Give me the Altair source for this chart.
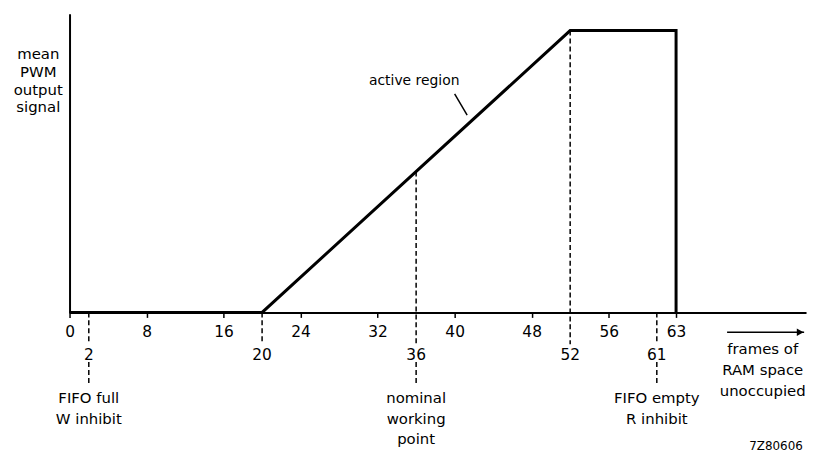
import altair as alt
import pandas as pd

FONT = "DejaVu Sans"

# transfer characteristic (mean PWM output vs. free RAM frames)
curve_x = [0, 20, 52, 63, 63]
curve_y = [0, 0, 1, 1, 0]

# first row of x tick labels
tick_values = [0, 8, 16, 24, 32, 40, 48, 56, 63]

# marked points: second row labels and dashed guide lines
mark_x = [2, 20, 36, 52, 61]
mark_top = [0, 0, 0.5, 1, 0]
mark_labels = ["2", "20", "36", "52", "61"]

# annotations below the axis
note_x = [2, 36, 61]
note_text = ["FIFO full\nW inhibit", "nominal\nworking\npoint", "FIFO empty\nR inhibit"]

unit_x = [72]
unit_text = ["frames of\nRAM space\nunoccupied"]
arrow_x = [68.3, 76.3]

active_x = [35.8]
active_y = [0.806]
active_text = ["active region"]
leader_x = [40.0, 41.3]
leader_y = [0.775, 0.70]

ref_x = [70.6]
ref_text = ["7Z80606"]

y_title = ["mean", "PWM", "output", "signal"]

xs = alt.Scale(domain=[0, 76.5], nice=False, zero=False)
ys = alt.Scale(domain=[0, 1.06], nice=False, zero=False)

xaxis = alt.Axis(values=tick_values, title="", grid=False, domainColor="black",
                 domainWidth=2, tickColor="black", tickWidth=1.5, tickSize=5,
                 labelFont=FONT, labelFontSize=15.5, labelColor="black",
                 labelBaseline="alphabetic", labelPadding=19, labelFlush=False,
                 labelOverlap=False)
yaxis = alt.Axis(title=y_title, titleAngle=0, titleX=-32, titleY=45,
                 titleAlign="center", titleBaseline="alphabetic",
                 titleFont=FONT, titleFontSize=15, titleFontWeight="normal",
                 titleLineHeight=18, titleColor="black",
                 ticks=False, labels=False, grid=False,
                 domainColor="black", domainWidth=2)


def X(field="x"):
    return alt.X(f"{field}:Q", scale=xs, axis=xaxis)


def Y(field="y"):
    return alt.Y(f"{field}:Q", scale=ys, axis=yaxis)


curve_df = pd.DataFrame({"x": curve_x, "y": curve_y, "i": range(len(curve_x))})
curve = alt.Chart(curve_df).mark_line(color="black", strokeWidth=3, strokeJoin="miter").encode(
    x=X(), y=Y(), order="i:Q")

marks_df = pd.DataFrame({"x": mark_x, "y": mark_top, "label": mark_labels})
dashed_upper = alt.Chart(marks_df).mark_rule(color="black", strokeWidth=1.5, strokeDash=[5, 3]).encode(
    x=X(), y=Y(), y2=alt.value(333))

lower_df = pd.DataFrame({"x": note_x})
dashed_lower = alt.Chart(lower_df).mark_rule(color="black", strokeWidth=1.5, strokeDash=[5, 3]).encode(
    x=X(), y=alt.value(351), y2=alt.value(375))

row2 = alt.Chart(marks_df).mark_text(font=FONT, fontSize=15.5, color="black",
                                     baseline="alphabetic", align="center", dy=48).encode(
    x=X(), y=alt.Y(datum=0, scale=ys, axis=yaxis), text="label:N")

notes_df = pd.DataFrame({"x": note_x, "t": note_text})
notes = alt.Chart(notes_df).mark_text(font=FONT, fontSize=15, color="black", lineBreak="\n",
                                      lineHeight=21, baseline="alphabetic", align="center", dy=91).encode(
    x=X(), y=alt.Y(datum=0, scale=ys, axis=yaxis), text="t:N")

unit_df = pd.DataFrame({"x": unit_x, "t": unit_text})
unit = alt.Chart(unit_df).mark_text(font=FONT, fontSize=15, color="black", lineBreak="\n",
                                    lineHeight=21, baseline="alphabetic", align="center", dy=42).encode(
    x=X(), y=alt.Y(datum=0, scale=ys, axis=yaxis), text="t:N")

arrow_df = pd.DataFrame({"x": [arrow_x[0]], "x2": [arrow_x[1]]})
arrow_line = alt.Chart(arrow_df).mark_rule(color="black", strokeWidth=1.5).encode(
    x=X(), x2="x2:Q", y=alt.value(321))
head_df = pd.DataFrame({"x": [arrow_x[1]]})
arrow_head = alt.Chart(head_df).mark_point(shape="triangle-right", filled=True, color="black",
                                           size=60, opacity=1, xOffset=-4).encode(
    x=X(), y=alt.value(321))

active_df = pd.DataFrame({"x": active_x, "y": active_y, "t": active_text})
active = alt.Chart(active_df).mark_text(font=FONT, fontSize=14, color="black",
                                        baseline="alphabetic", align="center").encode(
    x=X(), y=Y(), text="t:N")
leader_df = pd.DataFrame({"x": leader_x, "y": leader_y})
leader = alt.Chart(leader_df).mark_line(color="black", strokeWidth=1.5).encode(x=X(), y=Y())

ref_df = pd.DataFrame({"x": ref_x, "t": ref_text})
ref = alt.Chart(ref_df).mark_text(font=FONT, fontSize=12, color="black",
                                  baseline="alphabetic", align="left", dy=139).encode(
    x=X(), y=alt.Y(datum=0, scale=ys, axis=yaxis), text="t:N")

chart = alt.layer(curve, dashed_upper, dashed_lower, row2, notes, unit, arrow_line, arrow_head,
                  active, leader, ref).properties(
    width=742, height=301,
    autosize=alt.AutoSizeParams(type="none"),
    padding={"left": 62, "top": 4, "right": 5, "bottom": 150},
    background="white",
).configure_view(strokeWidth=0)

chart.save("out.html", embed_options={"renderer": "svg", "actions": False})
